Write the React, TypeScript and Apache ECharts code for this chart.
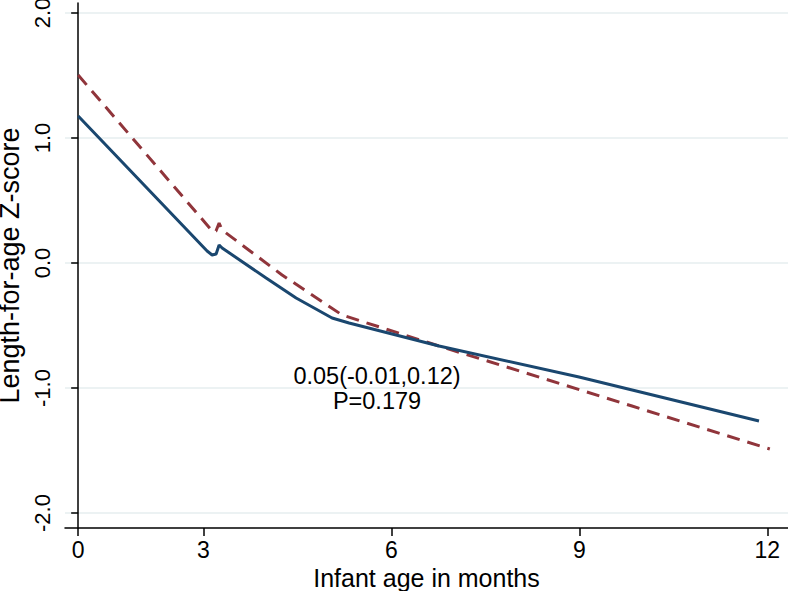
import React, { useEffect, useRef } from "react";
import * as echarts from "echarts";

// x positions are in axis units; tick positions below carry the month labels
const xTickPositions = [0, 2, 5, 8, 11];
const xTickLabels = ["0", "3", "6", "9", "12"];
const yTickValues = [-2, -1, 0, 1, 2];
const yTickLabels = ["-2.0", "-1.0", "0.0", "1.0", "2.0"];

const solidX = [0, 2.058, 2.138, 2.202, 2.25, 2.298, 3.0, 3.479, 4.053, 4.324, 5.76, 7.994, 10.867];
const solidY = [1.176, 0.096, 0.064, 0.072, 0.144, 0.12, -0.12, -0.28, -0.44, -0.48, -0.664, -0.912, -1.264];

const dashedX = [0, 2.154, 2.2, 2.25, 2.298, 3.255, 4.213, 5.76, 8.84, 11.04];
const dashedY = [1.504, 0.248, 0.256, 0.32, 0.264, -0.096, -0.416, -0.664, -1.144, -1.488];

const annotationLines = ["0.05(-0.01,0.12)", "P=0.179"];
const annotationAt = [4.77, -1.0];

const FONT = "Liberation Sans, Arial, Helvetica, sans-serif";

export default function App() {
  const ref = useRef<HTMLDivElement>(null);
  useEffect(() => {
    if (!ref.current) return;
    const chart = echarts.init(ref.current, undefined, { renderer: "svg" });
    const solid = solidX.map((x, i) => [x, solidY[i]]);
    const dashed = dashedX.map((x, i) => [x, dashedY[i]]);
    chart.setOption({
      animation: false,
      backgroundColor: "#ffffff",
      grid: { left: 65, right: 0, top: 3, bottom: 63, containLabel: false, outerBoundsMode: "none" },
      xAxis: {
        type: "value",
        min: -0.21,
        max: 11.33,
        axisLine: { show: true, onZero: false, lineStyle: { color: "#000", width: 1.5 } },
        axisTick: { show: true, length: 8, customValues: xTickPositions, lineStyle: { color: "#000", width: 1.5 } },
        axisLabel: {
          customValues: xTickPositions,
          formatter: (v: number) => {
            const i = xTickPositions.indexOf(v);
            return i >= 0 ? xTickLabels[i] : "";
          },
          color: "#000",
          fontFamily: FONT,
          fontSize: 23,
          margin: 10,
        },
        splitLine: { show: false },
        name: "Infant age in months",
        nameLocation: "middle",
        nameGap: 36,
        nameTextStyle: { color: "#000", fontFamily: FONT, fontSize: 25 },
      },
      yAxis: {
        type: "value",
        min: -2.12,
        max: 2.08,
        axisLine: { show: true, lineStyle: { color: "#000", width: 1.5 } },
        axisTick: { show: true, length: 7, customValues: yTickValues, lineStyle: { color: "#000", width: 1.5 } },
        axisLabel: {
          customValues: yTickValues,
          formatter: (v: number) => {
            const i = yTickValues.indexOf(v);
            return i >= 0 ? yTickLabels[i] : "";
          },
          rotate: 90,
          color: "#000",
          fontFamily: FONT,
          fontSize: 22,
          margin: 12,
        },
        splitLine: { show: true, lineStyle: { color: "#e6eeef", width: 1.5 } },
        name: "Length-for-age Z-score",
        nameLocation: "middle",
        nameRotate: 90,
        nameGap: 38,
        nameTextStyle: { color: "#000", fontFamily: FONT, fontSize: 27 },
      },
      series: [
        {
          type: "line",
          data: dashed,
          showSymbol: false,
          symbol: "none",
          lineStyle: { color: "#90353b", width: 3, type: [13, 8] },
          z: 2,
        },
        {
          type: "line",
          data: solid,
          showSymbol: false,
          symbol: "none",
          lineStyle: { color: "#1a476f", width: 3 },
          z: 3,
          markPoint: {
            symbol: "circle",
            symbolSize: 0,
            data: [
              {
                coord: annotationAt,
                label: {
                  show: true,
                  position: "inside",
                  formatter: annotationLines.join("\n"),
                  color: "#000",
                  fontFamily: FONT,
                  fontSize: 23.5,
                  lineHeight: 25,
                  align: "center",
                },
              },
            ],
          },
        },
      ],
    });
    return () => chart.dispose();
  }, []);
  return (
    <div
      ref={ref}
      style={{ position: "fixed", left: 0, top: 0, width: 788, height: 591 }}
    />
  );
}
